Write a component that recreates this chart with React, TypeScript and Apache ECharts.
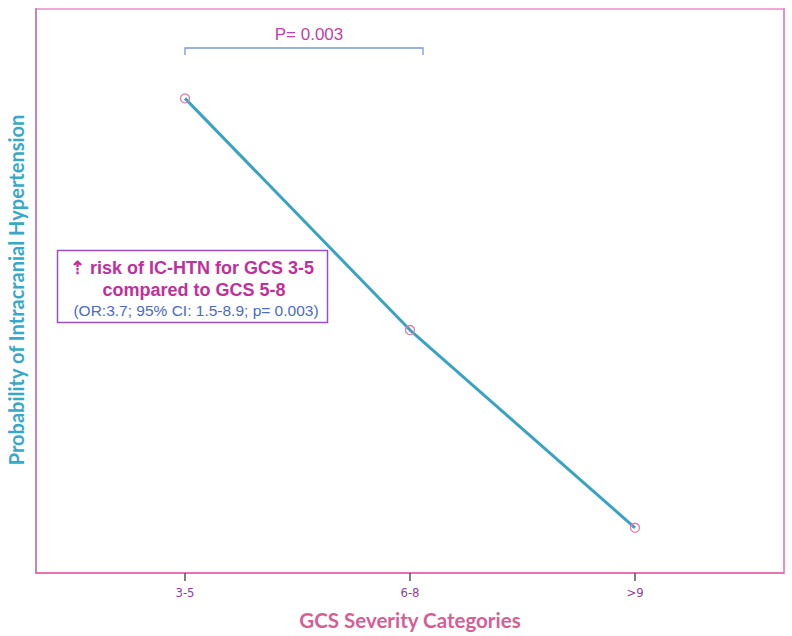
import React, { useEffect, useRef } from "react";
import * as echarts from "echarts";

const categories = ["3-5", "6-8", ">9"];
const probability = [0.84, 0.43, 0.08];
const bracketLabel = "P= 0.003";
const noteLine1 = "⇡ risk of IC-HTN for GCS 3-5";
const noteLine2 = "compared to GCS 5-8";
const noteLine3 = "(OR:3.7; 95% CI: 1.5-8.9; p= 0.003)";
const xTitle = "GCS Severity Categories";
const yTitle = "Probability of Intracranial Hypertension";

export default function App() {
  const ref = useRef<HTMLDivElement>(null);
  useEffect(() => {
    document.body.style.margin = "0";
    const chart = echarts.init(ref.current!, null, { renderer: "svg" });
    const font = "Lato, 'Open Sans', sans-serif";
    const arial = "Arial, 'Liberation Sans', sans-serif";
    chart.setOption({
      animation: false,
      backgroundColor: "#ffffff",
      grid: { left: 72.5, right: 44.5, top: 8, bottom: 63, containLabel: false },
      xAxis: {
        type: "category",
        data: categories,
        boundaryGap: true,
        axisLine: { show: false },
        axisTick: { show: true, alignWithLabel: true, length: 8, lineStyle: { color: "#555555", width: 1.5 } },
        axisLabel: { color: "#9040a0", fontSize: 13, fontFamily: "'DejaVu Sans Condensed', " + font, margin: 13 },
        splitLine: { show: false },
      },
      yAxis: {
        type: "value",
        min: 0,
        max: 1,
        axisLine: { show: false },
        axisTick: { show: false },
        axisLabel: { show: false },
        splitLine: { show: false },
      },
      series: [
        {
          type: "line",
          data: probability,
          symbol: "circle",
          symbolSize: 9,
          lineStyle: { color: "#3aa3c2", width: 3 },
          itemStyle: { color: "rgba(255,255,255,0)", borderColor: "#e27aaa", borderWidth: 1.3 },
          z: 3,
        },
      ],
      graphic: [
        { type: "line", shape: { x1: 36, y1: 9, x2: 784, y2: 9 }, style: { stroke: "#f2a6d0", lineWidth: 2 } },
        { type: "line", shape: { x1: 36, y1: 8, x2: 36, y2: 574 }, style: { stroke: "#c884b4", lineWidth: 2 } },
        { type: "line", shape: { x1: 784, y1: 8, x2: 784, y2: 574 }, style: { stroke: "#ef8ec4", lineWidth: 2 } },
        { type: "line", shape: { x1: 36, y1: 573, x2: 784, y2: 573 }, style: { stroke: "#e872ad", lineWidth: 2 } },
        {
          type: "polyline",
          shape: { points: [[185, 55], [185, 48], [423, 48], [423, 55]] },
          style: { stroke: "#7b96d8", lineWidth: 1.3, fill: "none" },
        },
        {
          type: "text",
          x: 309,
          y: 34,
          style: { text: bracketLabel, fill: "#c43fa6", fontSize: 17, fontFamily: arial, align: "center", verticalAlign: "middle" },
        },
        {
          type: "rect",
          shape: { x: 57.5, y: 250.5, width: 270, height: 72 },
          style: { fill: "#ffffff", stroke: "#9a4fbf", lineWidth: 1.5 },
        },
        {
          type: "text",
          x: 192,
          y: 268,
          style: { text: noteLine1, fill: "#c0309a", fontSize: 18, fontWeight: "bold", fontFamily: arial, align: "center", verticalAlign: "middle" },
        },
        {
          type: "text",
          x: 194,
          y: 290,
          style: { text: noteLine2, fill: "#c0309a", fontSize: 18, fontWeight: "bold", fontFamily: arial, align: "center", verticalAlign: "middle" },
        },
        {
          type: "text",
          x: 196,
          y: 310,
          style: { text: noteLine3, fill: "#4a6ac8", fontSize: 15.5, fontFamily: arial, align: "center", verticalAlign: "middle" },
        },
        {
          type: "text",
          x: 410,
          y: 620,
          style: { text: xTitle, fill: "#d55f95", fontSize: 20.5, fontWeight: "bold", fontFamily: font, align: "center", verticalAlign: "middle" },
        },
        {
          type: "text",
          x: 16,
          y: 290,
          rotation: Math.PI / 2,
          style: { text: yTitle, fill: "#38a8c8", fontSize: 20, fontWeight: "bold", fontFamily: font, align: "center", verticalAlign: "middle" },
        },
      ],
    });
    return () => chart.dispose();
  }, []);
  return <div ref={ref} style={{ width: 792, height: 636 }} />;
}
